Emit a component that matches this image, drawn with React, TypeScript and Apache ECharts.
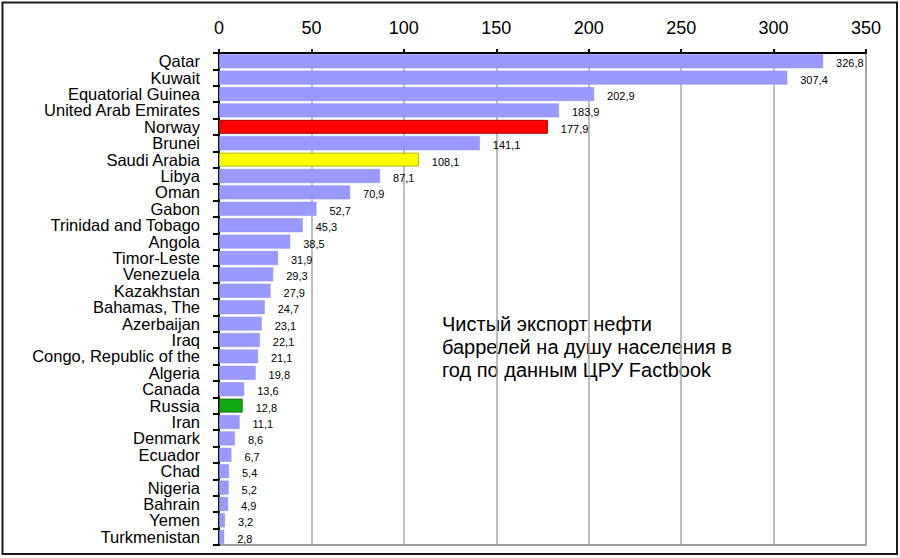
import React, { useEffect, useRef } from "react";
import * as echarts from "echarts";

const categories = [
  "Qatar", "Kuwait", "Equatorial Guinea", "United Arab Emirates", "Norway", "Brunei",
  "Saudi Arabia", "Libya", "Oman", "Gabon", "Trinidad and Tobago", "Angola",
  "Timor-Leste", "Venezuela", "Kazakhstan", "Bahamas, The", "Azerbaijan", "Iraq",
  "Congo, Republic of the", "Algeria", "Canada", "Russia", "Iran", "Denmark",
  "Ecuador", "Chad", "Nigeria", "Bahrain", "Yemen", "Turkmenistan",
];

const values = [
  326.8, 307.4, 202.9, 183.9, 177.9, 141.1, 108.1, 87.1, 70.9, 52.7, 45.3, 38.5,
  31.9, 29.3, 27.9, 24.7, 23.1, 22.1, 21.1, 19.8, 13.6, 12.8, 11.1, 8.6,
  6.7, 5.4, 5.2, 4.9, 3.2, 2.8,
];

const xTicks = [0, 50, 100, 150, 200, 250, 300, 350];

const highlightNames = ["Norway", "Saudi Arabia", "Russia"];
const highlightColors = ["#ff0000", "#ffff00", "#12a812"];
const highlightBorders = ["#b00000", "#b8b800", "#0a700a"];

const annotation = [
  "Чистый экспорт нефти",
  "баррелей на душу населения в",
  "год по данным ЦРУ Factbook",
];

const FONT = "'Liberation Sans', Arial, sans-serif";

export default function App() {
  const ref = useRef<HTMLDivElement>(null);

  useEffect(() => {
    if (!ref.current) return;
    const chart = echarts.init(ref.current, undefined, { renderer: "svg" });

    const data = values.map((v, i) => {
      const h = highlightNames.indexOf(categories[i]);
      return {
        value: v,
        itemStyle:
          h >= 0
            ? { color: highlightColors[h], borderColor: highlightBorders[h], borderWidth: 1 }
            : { color: "#9999ff", borderColor: "#8a8af0", borderWidth: 0.5 },
      };
    });

    chart.setOption({
      animation: false,
      backgroundColor: "#ffffff",
      textStyle: { fontFamily: FONT },
      grid: {
        left: 219,
        top: 53,
        right: 34,
        bottom: 13,
        show: true,
        borderColor: "#808080",
        borderWidth: 1.5,
        backgroundColor: "transparent",
      },
      xAxis: {
        type: "value",
        position: "top",
        min: xTicks[0],
        max: xTicks[xTicks.length - 1],
        interval: xTicks[1] - xTicks[0],
        axisLine: { show: true, lineStyle: { color: "#000", width: 2 } },
        axisTick: { show: true, length: 4, lineStyle: { color: "#000", width: 2 } },
        axisLabel: { fontSize: 18, color: "#000", margin: 16, fontFamily: FONT },
        splitLine: { show: true, lineStyle: { color: "#a8a8a8", width: 1.5 } },
      },
      yAxis: {
        type: "category",
        inverse: true,
        data: categories,
        axisLine: { show: true, lineStyle: { color: "#000", width: 2 } },
        axisTick: { show: true, length: 6, lineStyle: { color: "#000", width: 2 } },
        axisLabel: {
          fontSize: 16.5,
          lineHeight: 16,
          color: "#000",
          margin: 19,
          fontFamily: FONT,
          interval: 0,
        },
        splitLine: { show: false },
      },
      series: [
        {
          type: "bar",
          data,
          barCategoryGap: "15%",
          label: {
            show: true,
            position: "right",
            distance: 13,
            offset: [0, 2],
            fontSize: 11,
            color: "#000",
            fontFamily: FONT,
            formatter: (p: any) => Number(p.value).toFixed(1).replace(".", ","),
          },
        },
      ],
      graphic: [
        {
          type: "rect",
          shape: { x: 2.5, y: 2.5, width: 894.5, height: 551.5 },
          style: { fill: "transparent", stroke: "#1a1a1a", lineWidth: 2 },
          silent: true,
        },
        {
          type: "text",
          x: 442,
          y: 312,
          style: {
            text: annotation.join("\n"),
            fontSize: 20,
            lineHeight: 23,
            fill: "#000",
            fontFamily: FONT,
            textVerticalAlign: "top",
          },
        },
      ],
    });

    return () => chart.dispose();
  }, []);

  return (
    <div
      ref={ref}
      style={{ position: "fixed", left: 0, top: 0, width: 900, height: 558 }}
    />
  );
}
